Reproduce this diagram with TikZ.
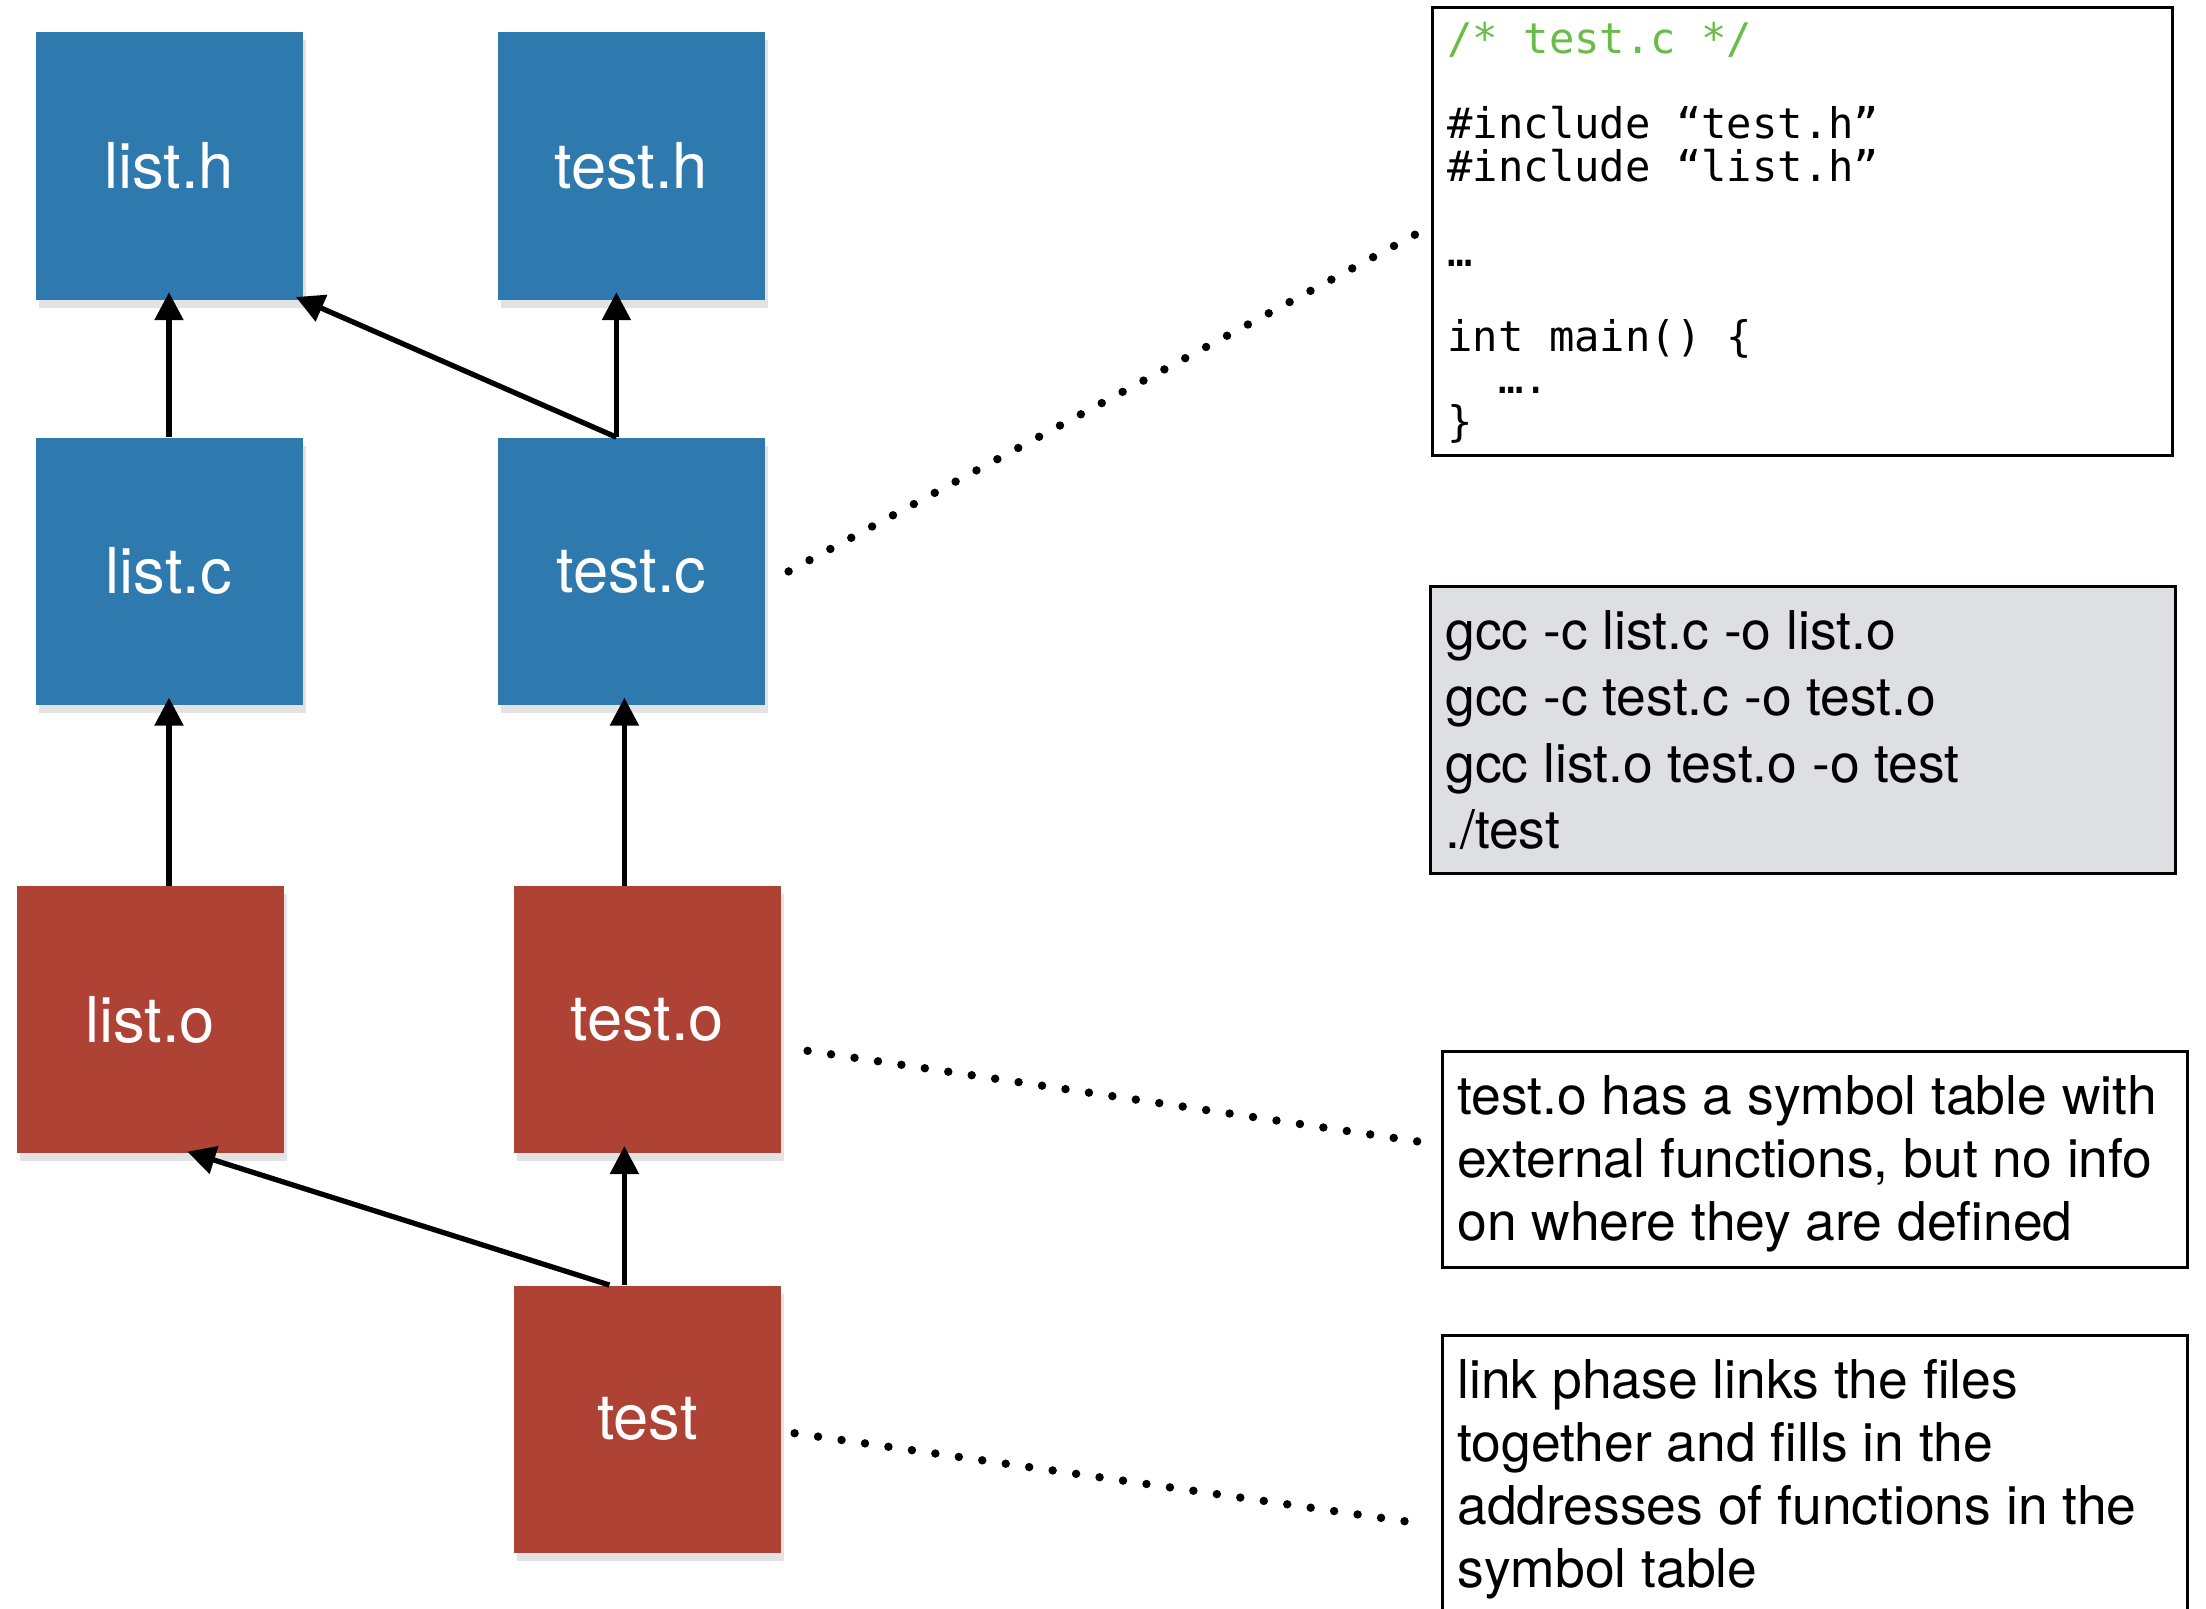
\documentclass[tikz,border=0pt]{standalone}
\usepackage{fontspec}
\setmainfont{TeX Gyre Heros}
\newfontfamily\codefont{DejaVu Sans Mono}
\usetikzlibrary{arrows.meta, positioning, shadows}

\definecolor{srcblue}{RGB}{46,122,175}
\definecolor{objred}{RGB}{174,66,52}
\definecolor{cmdgray}{RGB}{222,223,226}
\definecolor{cmtgreen}{RGB}{104,189,70}

\begin{document}
\begin{tikzpicture}[
    file/.style={rectangle, minimum size=2.67cm, inner sep=0pt, text=white, font=\fontsize{18}{20}\selectfont, drop shadow={opacity=0.22, shadow xshift=0.03cm, shadow yshift=-0.08cm}},
    src/.style={file, fill=srcblue},
    obj/.style={file, fill=objred},
    note/.style={draw, line width=0.8pt, anchor=north west, inner xsep=0.15cm, inner ysep=0.24cm, font=\fontsize{15.2}{17.9}\selectfont},
    arrow/.style={-{Triangle[length=0.28cm, width=0.28cm]}, line width=1.5pt, shorten >=-0.08cm},
    dotline/.style={line width=2.4pt, line cap=round, dash pattern=on 0pt off 0.237cm}
]
\useasboundingbox (0,0) rectangle (22.06,-16.08);

\node[src] (listh) at (1.69,-1.66) {list.h};
\node[src] (testh) [right=1.94cm of listh] {test.h};
\node[src] (listc) [below=1.37cm of listh] {list.c};
\node[src] (testc) [below=1.37cm of testh] {test.c};
\node[obj] (listo) [below=1.8cm of listc, xshift=-0.19cm] {list.o};
\node[obj] (testo) [below=1.8cm of testc, xshift=0.16cm] {test.o};
\node[obj] (test) [below=1.31cm of testo] {test};

\node[note, line width=0.9pt, inner ysep=0.15cm, font=\codefont\fontsize{12}{12.1}\selectfont] (code) at (14.31,-0.056) {\parbox[t][4.185cm][t]{7.1cm}{%
{\color{cmtgreen}/* test.c */}\\[\baselineskip]
\#include “test.h”\\
\#include “list.h”\\[\baselineskip]
…\\[\baselineskip]
int main() \{\\
\hspace*{1.2em}….\\
\}}};
\node[note, fill=cmdgray, font=\fontsize{15.2}{18.9}\selectfont] (cmds) at (14.29,-5.85) {\parbox[t][2.39cm][t]{7.15cm}{%
gcc -c list.c -o list.o\\
gcc -c test.c -o test.o\\
gcc list.o test.o -o test\\
./test}};
\node[note] (symtab) at (14.41,-10.50) {\parbox[t][1.68cm][t]{7.15cm}{%
test.o has a symbol table with\\
external functions, but no info\\
on where they are defined}};
\node[note] (link) at (14.41,-13.34) {\parbox[t][3cm][t]{7.15cm}{%
link phase links the files\\
together and fills in the\\
addresses of functions in the\\
symbol table}};

\draw[arrow] (listc) -- (listh);
\draw[arrow] ([xshift=-0.15cm]testc.north) -- ([xshift=-0.15cm]testh.south);
\draw[arrow] ([xshift=-0.15cm]testc.north) -- (listh.south east);
\draw[arrow] (listo.north -| listc) -- (listc);
\draw[arrow] ([xshift=-0.23cm]testo.north) -- ([xshift=-0.23cm]testo.north |- testc.south);
\draw[arrow] ([xshift=-0.23cm]test.north) -- ([xshift=-0.23cm]testo.south);
\draw[arrow] ([xshift=-0.38cm]test.north) -- ([xshift=0.45cm]listo.south);

\draw[dotline] ([xshift=0.23cm]testc.east) -- ([xshift=-0.1cm]code.west);
\draw[dotline] ([xshift=0.26cm, yshift=-0.31cm]testo.east) -- ([xshift=-0.17cm, yshift=0.17cm]symtab.west);
\draw[dotline] ([xshift=0.13cm, yshift=-0.14cm]test.east) -- ([xshift=-0.31cm, yshift=-1.88cm]link.north west);
\end{tikzpicture}
\end{document}
